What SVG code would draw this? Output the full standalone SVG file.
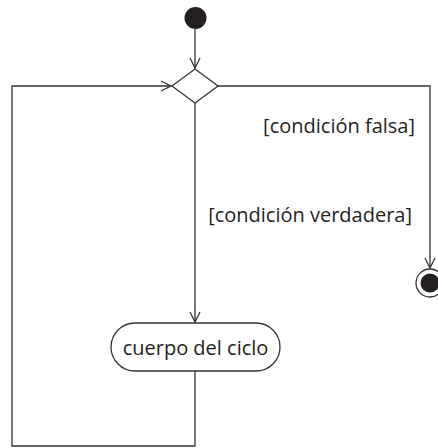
<svg xmlns="http://www.w3.org/2000/svg" width="438" height="448" viewBox="0 0 438 448">
<style>
.ln{fill:none;stroke:#333;stroke-width:1.3}
.sh{fill:#fff;stroke:#333;stroke-width:1.3}
.tx{font-family:"Open Sans","Liberation Sans",sans-serif;font-size:20px;fill:#231f20}
</style>
<defs>
<marker id="arr" viewBox="0 0 12 12" refX="11" refY="6" markerWidth="12" markerHeight="12" markerUnits="userSpaceOnUse" orient="auto">
<path d="M1,1 L11,6 L1,11" fill="none" stroke="#333" stroke-width="1.3"/>
</marker>
</defs>
<rect width="438" height="448" fill="#fff"/>
<g id="connectors">
<line class="ln" x1="195" y1="29" x2="195" y2="68" marker-end="url(#arr)"/>
<line class="ln" x1="195" y1="103" x2="195" y2="322" marker-end="url(#arr)"/>
<polyline class="ln" points="218,86 430,86 430,268" marker-end="url(#arr)"/>
<polyline class="ln" points="195,371 195,446 12,446 12,86 171,86" marker-end="url(#arr)"/>
</g>
<g id="start"><circle cx="195.5" cy="18" r="11" fill="#231f20"/></g>
<g id="decision"><polygon class="sh" points="195,69 218,86 195,103 172,86"/></g>
<g id="activity">
<rect class="sh" x="111" y="323" width="169" height="48" rx="24"/>
<text class="tx" x="195.5" y="355" text-anchor="middle">cuerpo del ciclo</text>
</g>
<g id="end">
<circle class="sh" cx="430" cy="283" r="14"/>
<circle cx="430" cy="283" r="9.5" fill="#231f20"/>
</g>
<g id="labels">
<text class="tx" x="415" y="133" text-anchor="end">[condición falsa]</text>
<text class="tx" x="412" y="222" text-anchor="end">[condición verdadera]</text>
</g>
</svg>
